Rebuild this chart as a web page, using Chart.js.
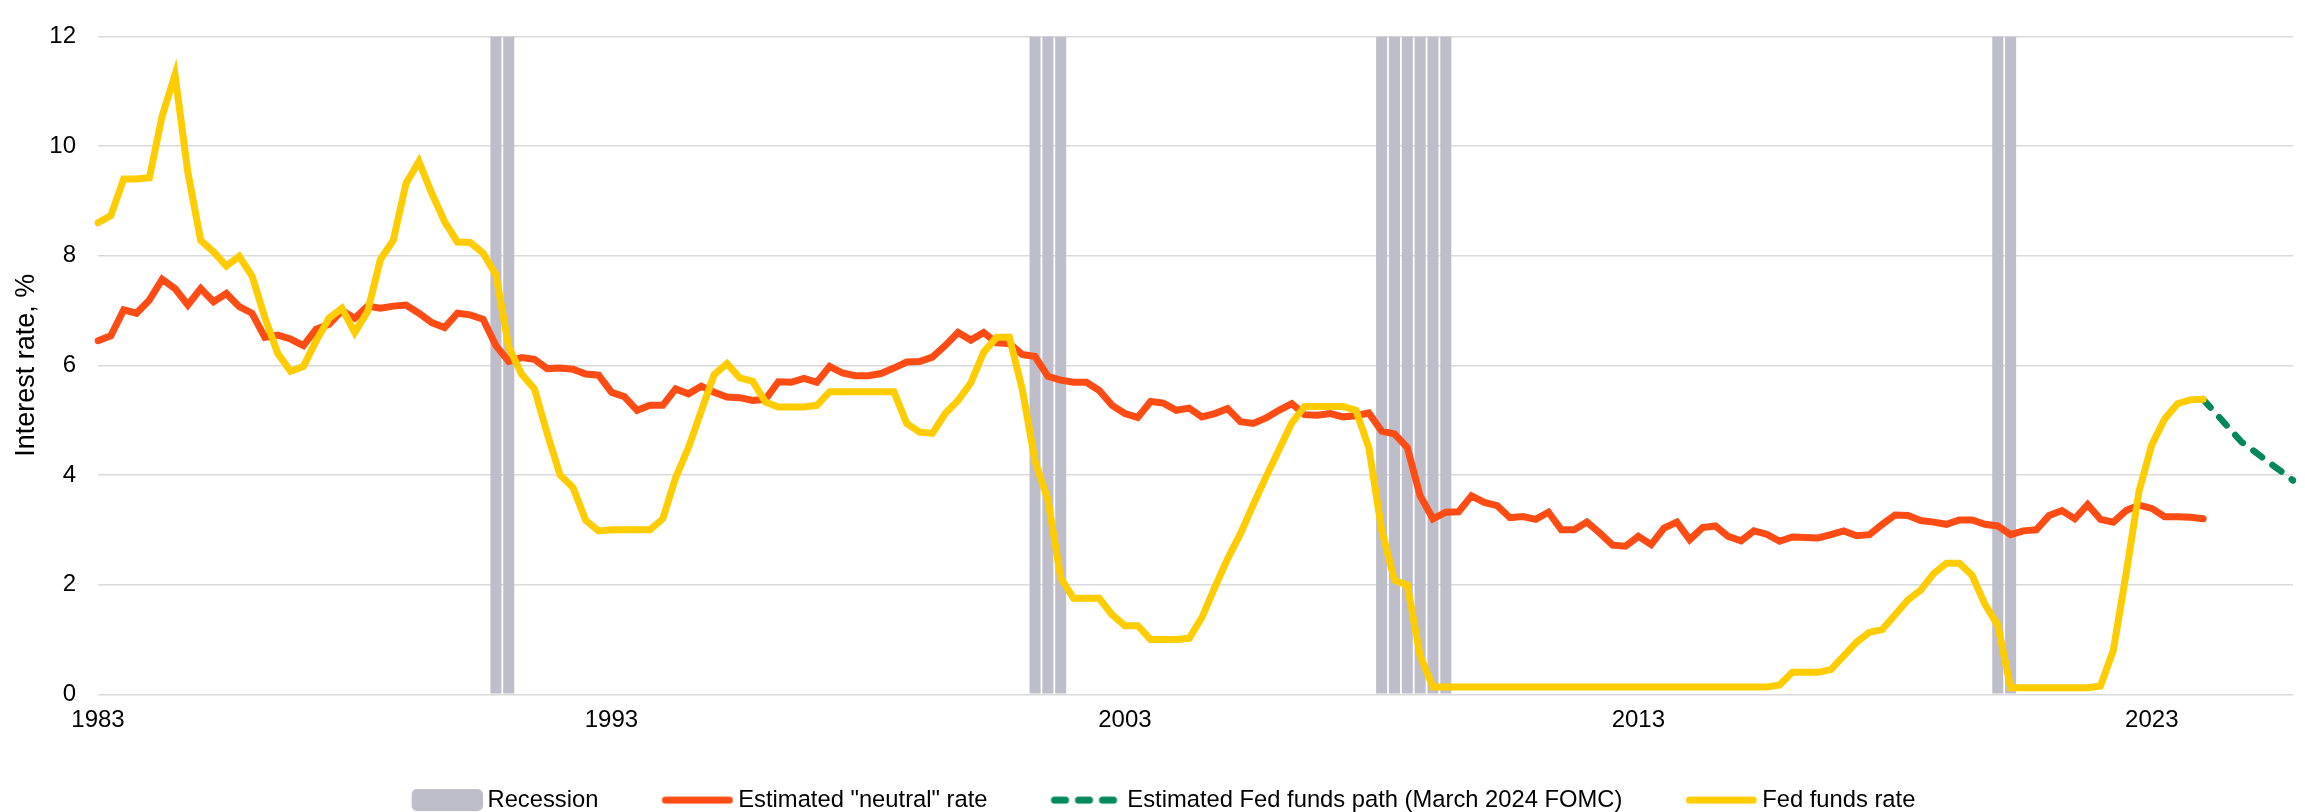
<!DOCTYPE html>
<html>
<head>
<meta charset="utf-8">
<script src="https://cdn.jsdelivr.net/npm/chart.js@4.4.1/dist/chart.umd.min.js"></script>
<style>
  html, body { margin: 0; padding: 0; background: #fff; }
</style>
</head>
<body>
<canvas id="rateChart" width="2305" height="812"></canvas>
<script>
// quarterly categories, 1983Q1 .. 2025Q4
var quarters = [];
for (var yr = 1983; yr <= 2025; yr++) {
    for (var q = 1; q <= 4; q++) quarters.push(yr + 'Q' + q);
}
var tickYears = ['1983', '1993', '2003', '2013', '2023'];

var recessionQuarters = ['1990Q4', '1991Q1', '2001Q2', '2001Q3', '2001Q4',
    '2008Q1', '2008Q2', '2008Q3', '2008Q4', '2009Q1', '2009Q2', '2020Q1', '2020Q2'];

// estimated "neutral" rate, from 1983Q1
var neutralRate = [
    6.45, 6.54, 7.01, 6.95,  7.19, 7.57, 7.40, 7.10,  7.40, 7.16, 7.31, 7.07,  6.95, 6.51, 6.55, 6.48,
    6.36, 6.66, 6.75, 7.00,  6.86, 7.08, 7.04, 7.08,  7.10, 6.95, 6.78, 6.69,  6.95, 6.92, 6.84, 6.36,
    6.07, 6.14, 6.11, 5.94,  5.95, 5.93, 5.84, 5.82,  5.51, 5.43, 5.18, 5.27,  5.27, 5.57, 5.48, 5.62,
    5.51, 5.42, 5.41, 5.36,  5.38, 5.70, 5.69, 5.76,  5.69, 5.98, 5.86, 5.81,  5.81, 5.85, 5.95, 6.06,
    6.07, 6.15, 6.36, 6.60,  6.46, 6.60, 6.41, 6.40,  6.20, 6.16, 5.80, 5.73,  5.69, 5.69, 5.54, 5.27,
    5.12, 5.05, 5.34, 5.31,  5.18, 5.22, 5.06, 5.12,  5.21, 4.97, 4.94, 5.04,  5.18, 5.30, 5.10, 5.09,
    5.12, 5.06, 5.08, 5.13,  4.80, 4.75, 4.50, 3.62,  3.20, 3.32, 3.33, 3.62,  3.50, 3.44, 3.22, 3.24,
    3.19, 3.32, 3.00, 3.00,  3.14, 2.94, 2.72, 2.70,  2.88, 2.73, 3.03, 3.14,  2.82, 3.04, 3.07, 2.88,
    2.80, 2.98, 2.92, 2.79,  2.87, 2.86, 2.85, 2.91,  2.98, 2.89, 2.91, 3.10,  3.27, 3.26, 3.17, 3.14,
    3.10, 3.18, 3.18, 3.10,  3.07, 2.91, 2.98, 3.00,  3.26, 3.35, 3.20, 3.46,  3.19, 3.14, 3.35, 3.45,
    3.39, 3.24, 3.24, 3.23,  3.20
];

// Fed funds rate, from 1983Q1
var fedFunds = [
    8.60, 8.73, 9.40, 9.40,  9.42, 10.55, 11.30, 9.52,  8.28, 8.07, 7.81, 7.99,  7.63, 6.87, 6.22, 5.89,
    5.98, 6.45, 6.86, 7.04,  6.60, 6.98, 7.93, 8.28,  9.32, 9.72, 9.14, 8.62,  8.25, 8.24, 8.05, 7.65,
    6.33, 5.84, 5.57, 4.75,  4.00, 3.77, 3.17, 2.98,  3.00, 3.00, 3.00, 3.00,  3.20, 3.95, 4.50, 5.17,
    5.83, 6.03, 5.77, 5.71,  5.33, 5.24, 5.24, 5.24,  5.27, 5.52, 5.52, 5.52,  5.52, 5.52, 5.52, 4.94,
    4.78, 4.76, 5.12, 5.36,  5.68, 6.24, 6.51, 6.51,  5.57, 4.25, 3.55, 2.12,  1.75, 1.75, 1.75, 1.45,
    1.25, 1.25, 1.00, 1.00,  1.00, 1.02, 1.40, 1.95,  2.47, 2.93, 3.46, 3.97,  4.46, 4.95, 5.25, 5.25,
    5.25, 5.25, 5.18, 4.50,  3.00, 2.08, 1.99, 0.70,  0.13, 0.13, 0.13, 0.13,  0.13, 0.13, 0.13, 0.13,
    0.13, 0.13, 0.13, 0.13,  0.13, 0.13, 0.13, 0.13,  0.13, 0.13, 0.13, 0.13,  0.13, 0.13, 0.13, 0.13,
    0.13, 0.13, 0.13, 0.17,  0.40, 0.40, 0.40, 0.45,  0.70, 0.95, 1.13, 1.18,  1.45, 1.72, 1.90, 2.20,
    2.39, 2.39, 2.17, 1.64,  1.26, 0.12, 0.12, 0.12,  0.12, 0.12, 0.12, 0.12,  0.15, 0.80, 2.20, 3.70,
    4.55, 5.02, 5.30, 5.37,  5.38
];

// estimated Fed funds path (March 2024 FOMC), from 2024Q1
var pathStart = '2024Q1';
var fedPath = [5.38, 5.12, 4.86, 4.60, 4.43, 4.25, 4.08, 3.90];

var colors = {
    recession: '#BEBDCA',
    neutral: '#FF4B14',
    path: '#00875A',
    fedFunds: '#FFCC00'
};

var recessionData = quarters.map(function(l) {
    return recessionQuarters.indexOf(l) >= 0 ? 12 : null;
});
var p0 = quarters.indexOf(pathStart);
var pathData = quarters.map(function(l, i) {
    var k = i - p0;
    return (k >= 0 && k < fedPath.length) ? fedPath[k] : null;
});

// legend pictures: 111px wide, the 72px sample sits at the right end
function legendSample(kind, color) {
    var c = document.createElement('canvas');
    c.width = 111;
    c.height = 24;
    var g = c.getContext('2d');
    var x0 = 111 - 72;
    if (kind === 'box') {
        g.fillStyle = color;
        g.beginPath();
        g.roundRect(x0 + 1, 1, 71, 22, 5);
        g.fill();
    } else {
        g.strokeStyle = color;
        g.lineWidth = 7;
        g.lineCap = 'round';
        if (kind === 'dash') g.setLineDash([11, 13]);
        g.beginPath();
        g.moveTo(x0 + 4, 12);
        g.lineTo(111 - 4, 12);
        g.stroke();
    }
    return c;
}

Chart.defaults.font.family = '"Liberation Sans", Arial, sans-serif';
Chart.defaults.color = '#000';

var ctx = document.getElementById('rateChart').getContext('2d');
var chart = new Chart(ctx, {
    type: 'line',
    data: {
        labels: quarters,
        datasets: [{
            type: 'bar',
            label: 'Recession',
            data: recessionData,
            backgroundColor: colors.recession,
            categoryPercentage: 1,
            barPercentage: 0.86,
            order: 4,
            legendSample: legendSample('box', colors.recession)
        }, {
            label: 'Estimated "neutral" rate',
            data: neutralRate,
            borderColor: colors.neutral,
            borderWidth: 7,
            borderCapStyle: 'round',
            pointRadius: 0,
            tension: 0,
            fill: false,
            order: 3,
            legendSample: legendSample('line', colors.neutral)
        }, {
            label: 'Estimated Fed funds path (March 2024 FOMC)',
            data: pathData,
            borderColor: colors.path,
            borderWidth: 6.5,
            borderDash: [11, 13],
            borderCapStyle: 'round',
            pointRadius: 0,
            tension: 0,
            fill: false,
            order: 2,
            legendSample: legendSample('dash', colors.path)
        }, {
            label: 'Fed funds rate',
            data: fedFunds,
            borderColor: colors.fedFunds,
            borderWidth: 7,
            borderCapStyle: 'round',
            pointRadius: 0,
            tension: 0,
            fill: false,
            order: 1,
            legendSample: legendSample('line', colors.fedFunds)
        }]
    },
    options: {
        responsive: false,
        animation: false,
        layout: { padding: { top: 17, right: 11, bottom: -10, left: 0 } },
        scales: {
            x: {
                type: 'category',
                offset: false,
                grid: { display: false, drawTicks: false },
                border: { display: false },
                ticks: {
                    autoSkip: false,
                    maxRotation: 0,
                    minRotation: 0,
                    padding: 12,
                    font: { size: 24 },
                    callback: function(v) {
                        var l = this.getLabelForValue(v);
                        return (l.slice(4) === 'Q1' && tickYears.indexOf(l.slice(0, 4)) >= 0) ? l.slice(0, 4) : '';
                    }
                },
                afterFit: function(s) { s.height = 63; }
            },
            y: {
                min: 0,
                max: 12,
                grid: { color: '#D9D9D9', lineWidth: 1.5, drawTicks: false },
                border: { display: false },
                ticks: { stepSize: 2, padding: 22, font: { size: 24 } },
                title: {
                    display: true,
                    text: 'Interest rate, %',
                    font: { size: 27 },
                    padding: { top: 10, bottom: 0 }
                },
                afterFit: function(s) { s.width = 98; }
            }
        },
        plugins: {
            tooltip: { enabled: false },
            legend: {
                position: 'bottom',
                labels: {
                    usePointStyle: true,
                    pointStyleWidth: 97,
                    padding: 31,
                    font: { size: 23.75 },
                    generateLabels: function(chart) {
                        return chart.data.datasets.map(function(ds, i) {
                            return {
                                text: ds.label,
                                pointStyle: ds.legendSample,
                                datasetIndex: i,
                                fontColor: '#000',
                                fillStyle: 'rgba(0,0,0,0)',
                                strokeStyle: 'rgba(0,0,0,0)',
                                lineWidth: 0,
                                hidden: false
                            };
                        });
                    }
                }
            }
        }
    }
});
</script>
</body>
</html>
